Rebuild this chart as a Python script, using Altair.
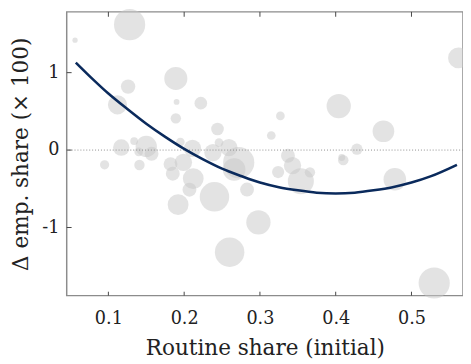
import altair as alt
import pandas as pd

# Bubbles: routine share (initial), change in employment share (x100), employment weight
routine = [0.056, 0.128, 0.189, 0.126, 0.112, 0.190, 0.222, 0.189, 0.244, 0.117,
           0.134, 0.150, 0.140, 0.157, 0.095, 0.141, 0.195, 0.211, 0.182, 0.199,
           0.185, 0.212, 0.207, 0.192, 0.240, 0.238, 0.246, 0.259, 0.272, 0.266,
           0.283, 0.298, 0.260, 0.327, 0.315, 0.337, 0.343, 0.324, 0.366, 0.354,
           0.404, 0.463, 0.428, 0.408, 0.410, 0.478, 0.530, 0.562]
d_emp = [1.42, 1.62, 0.925, 0.82, 0.584, 0.622, 0.606, 0.41, 0.272, 0.032,
         0.116, 0.047, -0.023, -0.048, -0.191, -0.193, 0.104, 0.021, -0.181, -0.158,
         -0.305, -0.368, -0.512, -0.705, -0.604, -0.032, 0.097, 0.032, -0.162, -0.25,
         -0.51, -0.933, -1.319, 0.441, 0.188, -0.073, -0.2, -0.284, -0.288, -0.402,
         0.568, 0.243, 0.011, -0.095, -0.13, -0.377, -1.717, 1.19]
weight = [9, 324, 177, 69, 121, 11, 53, 36, 53, 90,
          20, 151, 25, 64, 28, 36, 25, 100, 64, 100,
          64, 144, 64, 144, 289, 100, 25, 100, 324, 169,
          64, 196, 289, 25, 25, 64, 100, 49, 36, 225,
          196, 156, 42, 16, 36, 169, 324, 144]

# Fitted quadratic curve
fit_x = [0.057, 0.08, 0.10, 0.125, 0.15, 0.175, 0.20, 0.225, 0.25, 0.275, 0.30,
         0.325, 0.35, 0.375, 0.40, 0.425, 0.45, 0.475, 0.50, 0.525, 0.56]
fit_y = [1.13, 0.91, 0.73, 0.53, 0.34, 0.17, 0.015, -0.12, -0.24, -0.335, -0.42,
         -0.48, -0.52, -0.55, -0.56, -0.55, -0.52, -0.48, -0.42, -0.34, -0.19]

x_ticks = [0.1, 0.2, 0.3, 0.4, 0.5]
y_ticks = [-1, 0, 1]

W, H = 405, 290
FONT = "DejaVu Serif"
TXT = "#222222"

bub = pd.DataFrame({"x": routine, "y": d_emp, "w": weight})
fit = pd.DataFrame({"x": fit_x, "y": fit_y})
xt = pd.DataFrame({"x": x_ticks})
yt = pd.DataFrame({"y": y_ticks})
zero = pd.DataFrame({"y": [0]})

xscale = alt.Scale(domain=[0.045, 0.568], nice=False, zero=False)
yscale = alt.Scale(domain=[-1.88, 1.785], nice=False, zero=False)

xaxis = alt.Axis(values=x_ticks, format=".1f", domain=False, ticks=False, tickSize=0, grid=False,
                 labelFont=FONT, labelFontSize=18, labelColor=TXT, labelPadding=14,
                 title="Routine share (initial)", titleFont=FONT, titleFontSize=22,
                 titleFontWeight="normal", titleColor=TXT, titleBaseline="alphabetic",
                 titleY=60, titleX=W / 2, titleAlign="center")
yaxis = alt.Axis(values=y_ticks, format="d", domain=False, ticks=False, tickSize=0, grid=False,
                 labelFont=FONT, labelFontSize=18, labelColor=TXT, labelPadding=8,
                 labelExpr="replace(datum.label, '\u2212', '-')",
                 title="\u0394 emp. share (\u00d7 100)", titleFont=FONT, titleFontSize=22,
                 titleFontWeight="normal", titleColor=TXT, titleBaseline="alphabetic",
                 titleAngle=270, titleX=-40, titleY=H / 2, titleAlign="center")

bubbles = alt.Chart(bub).mark_circle(color="#c7c7c7", opacity=0.5).encode(
    x=alt.X("x:Q", scale=xscale, axis=xaxis),
    y=alt.Y("y:Q", scale=yscale, axis=yaxis),
    size=alt.Size("w:Q", scale=alt.Scale(domain=[0, 324], range=[0, 1018]), legend=None),
)

zline = alt.Chart(zero).mark_rule(color="#8c8c8c", strokeWidth=1, strokeDash=[1, 2]).encode(
    y=alt.Y("y:Q", scale=yscale)
)

curve = alt.Chart(fit).mark_line(color="#0a2a5c", strokeWidth=2.6, interpolate="monotone").encode(
    x=alt.X("x:Q", scale=xscale),
    y=alt.Y("y:Q", scale=yscale),
)

tick_col = "#444444"
xt_bottom = alt.Chart(xt).mark_rule(color=tick_col, strokeWidth=1).encode(
    x=alt.X("x:Q", scale=xscale), y=alt.value(H), y2=alt.value(H - 4))
xt_top = alt.Chart(xt).mark_rule(color=tick_col, strokeWidth=1).encode(
    x=alt.X("x:Q", scale=xscale), y=alt.value(0), y2=alt.value(5))
yt_left = alt.Chart(yt).mark_rule(color=tick_col, strokeWidth=1).encode(
    y=alt.Y("y:Q", scale=yscale), x=alt.value(0), x2=alt.value(5))

chart = alt.layer(bubbles, zline, curve, xt_bottom, xt_top, yt_left).properties(
    width=W, height=H,
    background="white",
    autosize=alt.AutoSizeParams(type="none"),
    padding={"left": 60, "top": 0, "right": 0, "bottom": 70},
).configure_view(stroke="#8c8c8c", strokeWidth=1.5)

chart.save("out.html", embed_options={"renderer": "svg", "actions": False})
